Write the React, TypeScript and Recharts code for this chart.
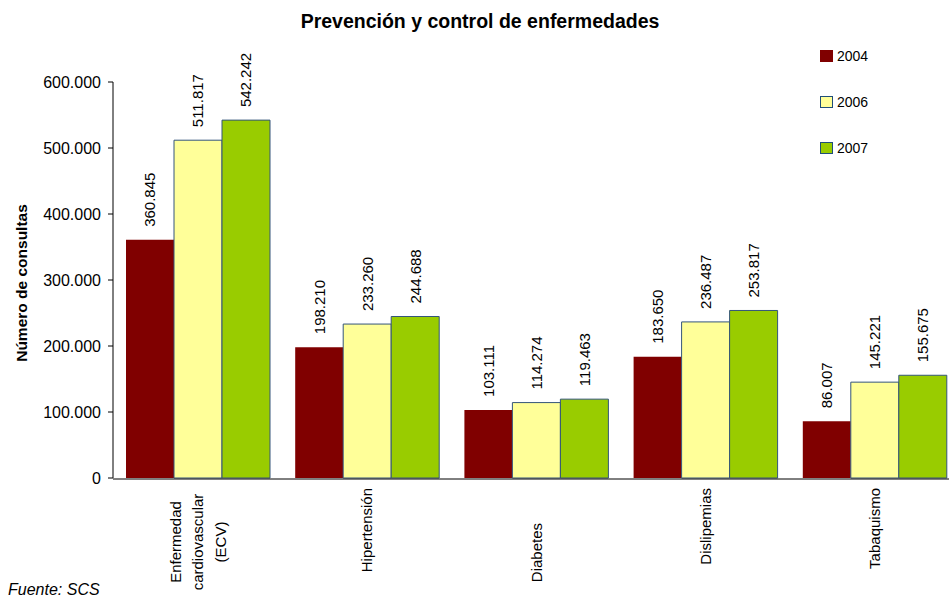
import React from "react";
import { BarChart, Bar, XAxis, YAxis, LabelList } from "recharts";

const CATEGORIES = [
  "Enfermedad\ncardiovascular\n(ECV)",
  "Hipertensión",
  "Diabetes",
  "Dislipemias",
  "Tabaquismo",
];
const VALUES_2004 = [360845, 198210, 103111, 183650, 86007];
const VALUES_2006 = [511817, 233260, 114274, 236487, 145221];
const VALUES_2007 = [542242, 244688, 119463, 253817, 155675];
const SERIES_NAMES = ["2004", "2006", "2007"];
const Y_TICKS = [0, 100000, 200000, 300000, 400000, 500000, 600000];
const BOUNDARY_TICKS = [0, 1, 2, 3, 4, 5];

const TITLE = "Prevención y control de enfermedades";
const Y_LABEL = "Número de consultas";
const SOURCE = "Fuente: SCS";

const SERIES_STYLE = [
  { key: "v2004", fill: "#800000", stroke: "none" },
  { key: "v2006", fill: "#FFFF99", stroke: "#34557A" },
  { key: "v2007", fill: "#99CC00", stroke: "#34557A" },
];

const TICK_EXTRA_SHIFT: Record<string, number> = { Diabetes: 35 };

const data = CATEGORIES.map((c, i) => ({
  cat: c,
  v2004: VALUES_2004[i],
  v2006: VALUES_2006[i],
  v2007: VALUES_2007[i],
}));

const FONT = "Arial, 'Liberation Sans', sans-serif";

const fmt = (v: number) =>
  String(Math.round(v)).replace(/\B(?=(\d{3})+(?!\d))/g, ".");

function CategoryTick(props: any) {
  const { x, y, payload } = props;
  const label = String(payload.value);
  const lines = label.split("\n");
  const fs = 15;
  if (lines.length === 1) {
    const yy = y + 10 + (TICK_EXTRA_SHIFT[label] ?? 0);
    return (
      <text
        x={x}
        y={yy}
        transform={`rotate(-90, ${x}, ${yy})`}
        textAnchor="end"
        dominantBaseline="central"
        fontFamily={FONT}
        fontSize={fs}
        fill="#000"
      >
        {label}
      </text>
    );
  }
  const cy = y + 64;
  const gap = 22.5;
  return (
    <g>
      {lines.map((ln, i) => {
        const lx = x + (i - (lines.length - 1) / 2) * gap;
        return (
          <text
            key={i}
            x={lx}
            y={cy}
            transform={`rotate(-90, ${lx}, ${cy})`}
            textAnchor="middle"
            dominantBaseline="central"
            fontFamily={FONT}
            fontSize={fs}
            fill="#000"
          >
            {ln}
          </text>
        );
      })}
    </g>
  );
}

function ValueLabel(props: any) {
  const { x, y, width, value } = props;
  const cx = x + width / 2;
  const yy = y - 13;
  return (
    <text
      x={cx}
      y={yy}
      transform={`rotate(-90, ${cx}, ${yy})`}
      textAnchor="start"
      dominantBaseline="central"
      fontFamily={FONT}
      fontSize={15}
      fill="#000"
    >
      {fmt(Number(value))}
    </text>
  );
}

export default function App() {
  return (
    <div
      style={{
        position: "absolute",
        left: 0,
        top: 0,
        width: 949,
        height: 597,
        overflow: "hidden",
        background: "#fff",
      }}
    >
      <BarChart
        width={960}
        height={597}
        data={data}
        margin={{ top: 82, right: 1, bottom: 117, left: 0 }}
        barCategoryGap={13}
        barGap={0}
      >
        <XAxis
          xAxisId="n"
          type="number"
          domain={[0, 5]}
          ticks={BOUNDARY_TICKS}
          tick={false}
          tickSize={5}
          height={1}
          axisLine={{ stroke: "#000" }}
          tickLine={{ stroke: "#000" }}
          allowDataOverflow
        />
        <XAxis
          xAxisId="cat"
          dataKey="cat"
          type="category"
          height={1}
          axisLine={false}
          tickLine={false}
          tickSize={0}
          tickMargin={0}
          interval={0}
          tick={<CategoryTick />}
        />
        <YAxis
          width={113}
          domain={[0, 600000]}
          ticks={Y_TICKS}
          tickFormatter={fmt}
          tickSize={5}
          tickMargin={7}
          axisLine={{ stroke: "#000" }}
          tickLine={{ stroke: "#000" }}
          tick={{ fontSize: 16, fill: "#000", fontFamily: FONT }}
          interval={0}
        />
        {SERIES_STYLE.map((s, i) => (
          <Bar
            key={s.key}
            xAxisId="cat"
            dataKey={s.key}
            name={SERIES_NAMES[i]}
            fill={s.fill}
            stroke={s.stroke}
            strokeWidth={1}
            isAnimationActive={false}
          >
            <LabelList dataKey={s.key} content={<ValueLabel />} />
          </Bar>
        ))}
      </BarChart>
      <svg
        width={949}
        height={597}
        style={{ position: "absolute", left: 0, top: 0, pointerEvents: "none" }}
      >
        <text
          x={480}
          y={28}
          textAnchor="middle"
          fontFamily={FONT}
          fontWeight="bold"
          fontSize={19.5}
          fill="#000"
        >
          {TITLE}
        </text>
        <text
          x={21}
          y={283}
          transform="rotate(-90, 21, 283)"
          textAnchor="middle"
          dominantBaseline="central"
          fontFamily={FONT}
          fontWeight="bold"
          fontSize={15.5}
          fill="#000"
        >
          {Y_LABEL}
        </text>
        {SERIES_NAMES.map((n, i) => (
          <g key={n}>
            <rect
              x={820.5}
              y={50.5 + i * 46}
              width={12}
              height={11}
              fill={SERIES_STYLE[i].fill}
              stroke={SERIES_STYLE[i].stroke === "none" ? SERIES_STYLE[i].fill : "#1F4E79"}
              strokeWidth={1}
            />
            <text
              x={837}
              y={61 + i * 46}
              fontFamily={FONT}
              fontSize={14}
              fill="#000"
            >
              {n}
            </text>
          </g>
        ))}
        <text
          x={8}
          y={595}
          fontFamily={FONT}
          fontStyle="italic"
          fontSize={16}
          fill="#000"
        >
          {SOURCE}
        </text>
      </svg>
    </div>
  );
}
